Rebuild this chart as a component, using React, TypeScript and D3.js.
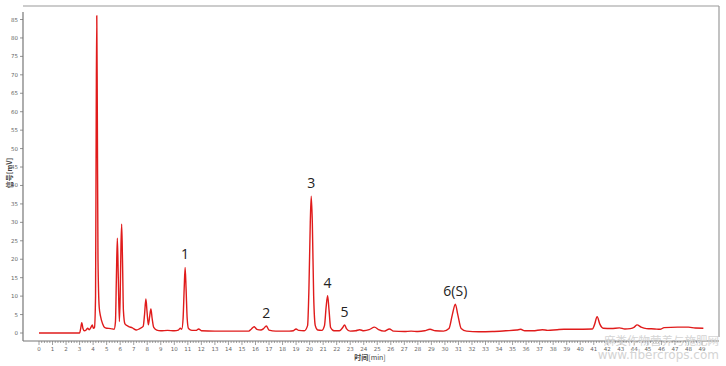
import React, { useEffect, useRef } from 'react';
import * as d3 from 'd3';

// retention time (min) / signal (mV)
const times = [0, 3.0, 3.08, 3.16, 3.25, 3.35, 3.5, 3.6, 3.7, 3.85, 3.94, 4.02, 4.1, 4.18, 4.23, 4.27, 4.31, 4.36, 4.45, 4.55, 4.7, 4.85, 5.0, 5.3, 5.55, 5.65, 5.72, 5.79, 5.86, 5.94, 6.0, 6.06, 6.11, 6.17, 6.24, 6.35, 6.6, 6.9, 7.2, 7.45, 7.7, 7.8, 7.9, 7.98, 8.08, 8.18, 8.27, 8.36, 8.48, 8.7, 9.0, 9.5, 10.0, 10.3, 10.45, 10.55, 10.65, 10.73, 10.8, 10.87, 10.95, 11.05, 11.3, 11.6, 11.8, 12.0, 13, 14, 15, 15.5, 15.7, 15.9, 16.1, 16.4, 16.6, 16.8, 17.0, 17.5, 18.5, 18.8, 19.0, 19.2, 19.6, 19.85, 19.95, 20.05, 20.12, 20.2, 20.3, 20.42, 20.6, 20.9, 21.1, 21.22, 21.33, 21.44, 21.55, 21.8, 22.2, 22.45, 22.58, 22.72, 23.0, 23.4, 23.7, 24.0, 24.4, 24.8, 25.1, 25.5, 25.9, 26.2, 27, 27.5, 28, 28.5, 28.9, 29.3, 29.9, 30.3, 30.55, 30.77, 30.95, 31.2, 31.6, 32.5, 33.5, 34.5, 35.3, 35.6, 35.9, 36.5, 37.2, 37.6, 38.3, 38.8, 39.5, 40.9, 41.05, 41.25, 41.45, 41.7, 42.3, 42.9, 43.3, 43.7, 44.0, 44.2, 44.5, 44.9, 45.5, 45.9, 46.2, 47.2, 48.0, 48.5, 49.1];
const signal = [0, 0, 1.2, 2.8, 1.2, 0.6, 0.9, 1.3, 0.9, 1.6, 2.2, 1.3, 1.5, 10, 60, 86, 60, 20, 7, 4.5, 2.5, 1.5, 1.3, 1.2, 1.0, 3, 15, 25.7, 15, 3.1, 10, 24, 29.5, 20, 6, 2.5, 1.8, 1.4, 0.8, 1.2, 1.8, 5, 9.2, 6, 2.2, 4.5, 6.5, 4, 1.5, 0.8, 0.6, 0.7, 0.6, 0.8, 1.3, 1.0, 4, 12, 17.8, 12, 4, 1.2, 0.7, 0.7, 1.1, 0.6, 0.5, 0.5, 0.5, 0.5, 1.1, 1.7, 1.0, 0.8, 1.2, 1.9, 0.8, 0.5, 0.5, 0.6, 1.1, 0.7, 0.6, 2, 12, 30, 37.1, 30, 10, 2, 0.8, 0.7, 2, 7, 10.1, 6, 1.5, 0.6, 0.6, 1.5, 2.2, 1.2, 0.5, 0.6, 0.9, 0.6, 0.9, 1.6, 0.9, 0.5, 1.1, 0.5, 0.4, 0.5, 0.4, 0.6, 1.0, 0.6, 0.5, 1.2, 5, 7.8, 5, 1.2, 0.5, 0.35, 0.4, 0.6, 0.8, 1.0, 0.6, 0.6, 0.9, 0.7, 0.9, 1.0, 1.0, 1.1, 2.2, 4.4, 2.4, 1.3, 1.2, 1.4, 1.1, 1.2, 1.6, 2.2, 1.6, 1.2, 1.1, 1.0, 1.45, 1.6, 1.6, 1.35, 1.3];

const peakNames = ['1', '2', '3', '4', '5', '6(S)'];
const peakTimes = [10.8, 16.8, 20.12, 21.33, 22.58, 30.77];
const peakHeights = [17.8, 1.9, 37.1, 10.1, 2.2, 7.8];

const yTicks = d3.range(0, 86, 5);
const xTicks = d3.range(0, 50, 1);

export default function App() {
  const ref = useRef<SVGSVGElement | null>(null);

  useEffect(() => {
    const W = 726, H = 366;
    const frame = { left: 23, right: 719, top: 6, bottom: 341 };
    const svg = d3.select(ref.current);
    svg.selectAll('*').remove();

    const x = d3.scaleLinear().domain([0, 49]).range([39, 702]);
    const y = d3.scaleLinear().domain([0, 85]).range([333, 19.5]);

    // frame
    svg.append('rect').attr('width', W).attr('height', H).attr('fill', '#fff');
    svg.append('line')
      .attr('x1', frame.left).attr('x2', frame.right)
      .attr('y1', frame.top).attr('y2', frame.top)
      .attr('stroke', '#9a9a9a').attr('stroke-width', 1.2);
    svg.append('line')
      .attr('x1', frame.right).attr('x2', frame.right)
      .attr('y1', frame.top).attr('y2', 337)
      .attr('stroke', '#9a9a9a').attr('stroke-width', 1.2);
    svg.append('line')
      .attr('x1', frame.left).attr('x2', frame.left)
      .attr('y1', 12).attr('y2', frame.bottom)
      .attr('stroke', '#777').attr('stroke-width', 1.2);
    svg.append('line')
      .attr('x1', frame.left).attr('x2', frame.right)
      .attr('y1', frame.bottom).attr('y2', frame.bottom)
      .attr('stroke', '#777').attr('stroke-width', 1.2);

    // y axis
    const gy = svg.append('g');
    yTicks.forEach(t => {
      gy.append('line')
        .attr('x1', frame.left - 3).attr('x2', frame.left)
        .attr('y1', y(t)).attr('y2', y(t))
        .attr('stroke', '#777').attr('stroke-width', 0.8);
      gy.append('text')
        .attr('x', frame.left - 5).attr('y', y(t))
        .attr('text-anchor', 'end').attr('dominant-baseline', 'central')
        .attr('font-family', 'DejaVu Sans, sans-serif').attr('font-size', 5.5)
        .attr('fill', '#666')
        .text(t);
    });
    svg.append('text')
      .attr('transform', `translate(9,173) rotate(-90)`)
      .attr('text-anchor', 'middle').attr('dominant-baseline', 'central')
      .attr('font-family', 'Noto Sans CJK SC, sans-serif').attr('font-size', 7)
      .attr('font-weight', 700).attr('fill', '#444')
      .text('信号[mV]');

    // x axis
    const gx = svg.append('g');
    d3.range(0, 49.01, 0.2).forEach(t => {
      const major = Math.abs(t - Math.round(t)) < 1e-6;
      gx.append('line')
        .attr('x1', x(t)).attr('x2', x(t))
        .attr('y1', frame.bottom).attr('y2', frame.bottom + (major ? 4 : 2))
        .attr('stroke', '#777').attr('stroke-width', 0.7);
    });
    xTicks.forEach(t => {
      gx.append('text')
        .attr('x', x(t)).attr('y', 349)
        .attr('text-anchor', 'middle').attr('dominant-baseline', 'central')
        .attr('font-family', 'DejaVu Sans, sans-serif').attr('font-size', 5.5)
        .attr('fill', '#666')
        .text(t);
    });
    svg.append('text')
      .attr('x', 370).attr('y', 357)
      .attr('text-anchor', 'middle').attr('dominant-baseline', 'central')
      .attr('font-family', 'Noto Sans CJK SC, sans-serif').attr('font-size', 7)
      .attr('fill', '#444')
      .html('<tspan font-weight="700">时间</tspan>[min]');

    // trace
    const pts = times.map((t, i) => [t, signal[i]] as [number, number]);
    const line = d3.line<[number, number]>()
      .x(d => x(d[0])).y(d => y(d[1]))
      .curve(d3.curveMonotoneX);
    svg.append('path')
      .datum(pts)
      .attr('d', line)
      .attr('fill', 'none')
      .attr('stroke', '#e01b1b')
      .attr('stroke-width', 1.4)
      .attr('stroke-linejoin', 'round');

    // peak labels
    peakNames.forEach((n, i) => {
      svg.append('text')
        .attr('x', x(peakTimes[i])).attr('y', y(peakHeights[i]) - 8)
        .attr('text-anchor', 'middle')
        .attr('font-family', 'Open Sans, sans-serif').attr('font-size', 14)
        .attr('fill', '#222')
        .text(n);
    });

    // watermark
    svg.append('text')
      .attr('x', 719).attr('y', 345)
      .attr('text-anchor', 'end')
      .attr('font-family', 'Noto Sans CJK SC, sans-serif').attr('font-size', 11.5)
      .attr('fill', '#d4d4d4')
      .text('麻类作物营养与施肥网');
    svg.append('text')
      .attr('x', 719).attr('y', 359)
      .attr('text-anchor', 'end')
      .attr('font-family', 'DejaVu Sans, sans-serif').attr('font-size', 12)
      .attr('fill', '#d4d4d4')
      .text('www.fibercrops.com');
  }, []);

  return (
    <svg ref={ref} width={726} height={366}
      style={{ position: 'absolute', left: 0, top: 0, display: 'block' }} />
  );
}
